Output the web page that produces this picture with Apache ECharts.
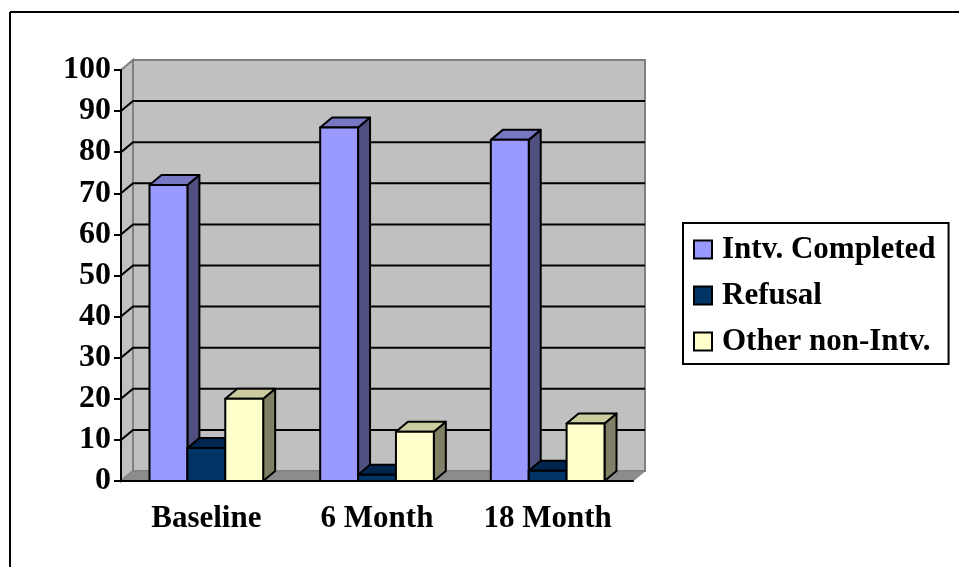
<!DOCTYPE html>
<html>
<head>
<meta charset="utf-8">
<title>Interview outcomes</title>
<script src="https://cdn.jsdelivr.net/npm/echarts@6/dist/echarts.min.js"></script>
<style>
	html, body { margin: 0; padding: 0; background: #fff; }
	#chart { width: 959px; height: 567px; }
</style>
</head>
<body>
<div id="chart"></div>
<script>
// data
const categories = ["Baseline", "6 Month", "18 Month"];
const intvCompleted = [72, 86, 83];
const refusal = [8, 1.5, 2.5];
const otherNonIntv = [20, 12, 14];
const seriesNames = ["Intv. Completed", "Refusal", "Other non-Intv."];

const yMin = 0;
const yMax = 100;
const yStep = 10;

// 3d look
const DEPTH_X = 12;
const DEPTH_Y = 10;
const BAR_RATIO = 0.222; // bar width as part of the category band
const FONT = "'Liberation Serif', 'Times New Roman', serif";

// front / top / side colours per series
const palettes = [
	{ front: "#9999FF", top: "#7777C4", side: "#4F4F80" },
	{ front: "#003366", top: "#002650", side: "#001A33" },
	{ front: "#FFFFCC", top: "#CCCC9E", side: "#808066" },
];

const chart = echarts.init(document.getElementById("chart"));

function renderBackdrop(params, api) {
	const band = api.size([1, 0])[0];
	const x0 = api.coord([0, yMin])[0] - band / 2;
	const x1 = api.coord([categories.length - 1, yMin])[0] + band / 2;
	const y0 = api.coord([0, yMin])[1];
	const yTop = api.coord([0, yMax])[1];
	const children = [];
	// left side wall
	children.push({
		type: "polygon",
		shape: { points: [[x0, yTop], [x0 + DEPTH_X, yTop - DEPTH_Y], [x0 + DEPTH_X, y0 - DEPTH_Y], [x0, y0]] },
		style: { fill: "#C0C0C0", stroke: "#808080", lineWidth: 2 },
	});
	// back wall
	children.push({
		type: "rect",
		shape: { x: x0 + DEPTH_X, y: yTop - DEPTH_Y, width: x1 - x0, height: y0 - yTop },
		style: { fill: "#C0C0C0", stroke: "#808080", lineWidth: 2 },
	});
	// floor
	children.push({
		type: "polygon",
		shape: { points: [[x0, y0], [x1, y0], [x1 + DEPTH_X, y0 - DEPTH_Y], [x0 + DEPTH_X, y0 - DEPTH_Y]] },
		style: { fill: "#8C8C8C", stroke: "#808080", lineWidth: 1 },
	});
	// grid lines on side wall and back wall
	for (let v = yMin + yStep; v < yMax; v += yStep) {
		const y = api.coord([0, v])[1];
		children.push({
			type: "polyline",
			shape: { points: [[x0, y], [x0 + DEPTH_X, y - DEPTH_Y], [x1 + DEPTH_X, y - DEPTH_Y]] },
			style: { fill: null, stroke: "#000", lineWidth: 2 },
		});
	}
	return { type: "group", children: children };
}

function makeBarRenderer(idx) {
	const pal = palettes[idx];
	return function (params, api) {
		const cat = api.value(0);
		const val = api.value(1);
		const band = api.size([1, 0])[0];
		const w = band * BAR_RATIO;
		const base = api.coord([cat, 0]);
		const top = api.coord([cat, val]);
		const x = base[0] - 1.5 * w + idx * w;
		const yb = base[1];
		const yt = top[1];
		const line = { stroke: "#000", lineWidth: 2, lineJoin: "round" };
		return {
			type: "group",
			children: [
				{
					type: "polygon",
					shape: { points: [[x + w, yt], [x + w + DEPTH_X, yt - DEPTH_Y], [x + w + DEPTH_X, yb - DEPTH_Y], [x + w, yb]] },
					style: Object.assign({ fill: pal.side }, line),
				},
				{
					type: "polygon",
					shape: { points: [[x, yt], [x + DEPTH_X, yt - DEPTH_Y], [x + w + DEPTH_X, yt - DEPTH_Y], [x + w, yt]] },
					style: Object.assign({ fill: pal.top }, line),
				},
				{
					type: "rect",
					shape: { x: x, y: yt, width: w, height: yb - yt },
					style: Object.assign({ fill: pal.front }, line),
				},
			],
		};
	};
}

const allValues = [intvCompleted, refusal, otherNonIntv];
const barSeries = allValues.map((vals, i) => ({
	name: seriesNames[i],
	type: "custom",
	z: 3,
	renderItem: makeBarRenderer(i),
	itemStyle: { color: palettes[i].front, borderColor: "#000", borderWidth: 1.5 },
	encode: { x: 0, y: 1 },
	data: vals.map((v, c) => [c, v]),
}));

const option = {
	backgroundColor: "#fff",
	animation: false,
	textStyle: { fontFamily: FONT },
	grid: { left: 121, top: 70, right: 326, bottom: 86 },
	xAxis: {
		type: "category",
		data: categories,
		z: 10,
		axisLine: { lineStyle: { color: "#000", width: 2 } },
		axisTick: { length: 7, lineStyle: { color: "#000", width: 2 } },
		axisLabel: { color: "#000", fontFamily: FONT, fontWeight: "bold", fontSize: 31, margin: 22 },
		splitLine: { show: false },
	},
	yAxis: {
		type: "value",
		min: yMin,
		max: yMax,
		interval: yStep,
		z: 10,
		axisLine: { show: true, lineStyle: { color: "#000", width: 2 } },
		axisTick: { show: true, length: 7, lineStyle: { color: "#000", width: 2 } },
		axisLabel: { color: "#000", fontFamily: FONT, fontWeight: "bold", fontSize: 32, margin: 10, padding: [4, 0, 0, 0] },
		splitLine: { show: false },
	},
	legend: {
		orient: "vertical",
		left: 683,
		top: 223,
		data: seriesNames,
		icon: "rect",
		itemWidth: 18,
		itemHeight: 18,
		itemGap: 15,
		padding: [11, 13, 7, 10],
		borderColor: "#000",
		borderWidth: 2,
		backgroundColor: "#fff",
		textStyle: { color: "#000", fontFamily: FONT, fontWeight: "bold", fontSize: 31, padding: [0, 0, 0, 5] },
	},
	graphic: [
		{ type: "line", shape: { x1: 10, y1: 12, x2: 959, y2: 12 }, style: { stroke: "#000", lineWidth: 2 } },
		{ type: "line", shape: { x1: 10, y1: 12, x2: 10, y2: 567 }, style: { stroke: "#000", lineWidth: 2 } },
	],
	series: [
		{
			name: "backdrop",
			type: "custom",
			z: 1,
			silent: true,
			renderItem: renderBackdrop,
			encode: { x: 0, y: 1 },
			data: [[0, 0]],
		},
	].concat(barSeries),
};

chart.setOption(option);
</script>
</body>
</html>
